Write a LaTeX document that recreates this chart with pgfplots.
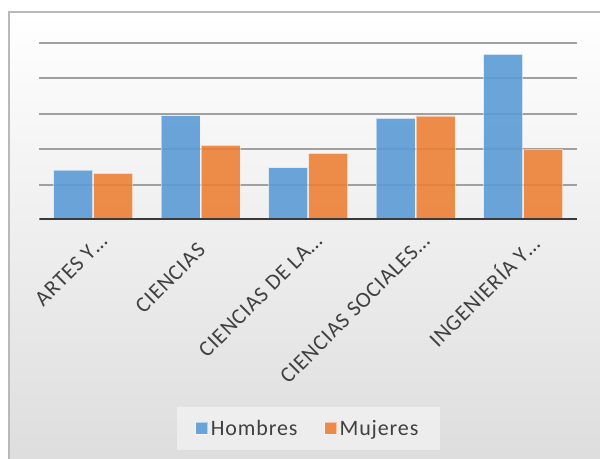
\documentclass[border=0pt]{standalone}
\usepackage{pgfplots}
\pgfplotsset{compat=1.18}
\usepackage{fontspec}
\setmainfont{Carlito}[LetterSpace=4]

\definecolor{hombres}{RGB}{91,155,213}
\definecolor{mujeres}{RGB}{237,125,49}
\definecolor{gridgray}{RGB}{160,160,160}
\definecolor{basegray}{RGB}{58,58,58}
\definecolor{labelgray}{RGB}{64,64,64}
\definecolor{framegray}{RGB}{185,185,185}

\newcommand{\chartfont}{\fontsize{16.5}{19.8}\selectfont}

\begin{document}
\begin{tikzpicture}
  \useasboundingbox (0,0) rectangle (450pt,344.25pt);
  % chart area background
  \shade[top color=white, bottom color=gray!27] (6.75pt,-10pt) rectangle (460pt,335.25pt);
  \draw[framegray, line width=1pt] (6.75pt,-10pt) -- (6.75pt,335.25pt) -- (460pt,335.25pt);

  \begin{axis}[
      at={(29.6pt,179.25pt)}, anchor=south west,
      scale only axis, width=403.1pt, height=132.75pt,
      ybar=0.75pt, bar width=29.25pt,
      xmin=-0.5, xmax=4.5, ymin=0, ymax=5,
      xtick={0,1,2,3,4},
      xticklabels={ARTES Y…, {CIENCIAS\rule{0.6em}{0pt}}, CIENCIAS DE LA…, CIENCIAS SOCIALES…, INGENIERÍA Y…},
      ytick={1,2,3,4,5}, yticklabels={},
      major tick length=0pt,
      ymajorgrids,
      major grid style={line width=1.5pt, color=gridgray},
      axis line style={draw=none},
      xticklabel style={font=\chartfont, text=labelgray, inner sep=0pt,
        anchor=north east, xshift=3.75pt, yshift=-9pt, rotate=45},
      legend columns=2,
      legend style={at={(0.5,-1.178)}, anchor=center, draw=none,
        fill=white, fill opacity=0.45, text opacity=1,
        font=\chartfont, text=labelgray, inner xsep=14pt, inner ysep=7.5pt,
        /tikz/every even column/.append style={column sep=18pt}},
      legend image code/.code={\fill[#1] (0pt,-4.5pt) rectangle (9pt,4.5pt);},
    ]
    \addplot[fill=hombres, fill opacity=0.9, draw=white, draw opacity=0.5, line width=0.6pt]
      coordinates {(0,1.41) (1,2.95) (2,1.48) (3,2.87) (4,4.68)};
    \addplot[fill=mujeres, fill opacity=0.88, draw=white, draw opacity=0.5, line width=0.6pt]
      coordinates {(0,1.32) (1,2.11) (2,1.88) (3,2.94) (4,2.00)};
    \legend{Hombres, Mujeres}
    \draw[basegray, line width=2.25pt] (axis cs:-0.5,0) -- (axis cs:4.5,0);
  \end{axis}
\end{tikzpicture}
\end{document}
